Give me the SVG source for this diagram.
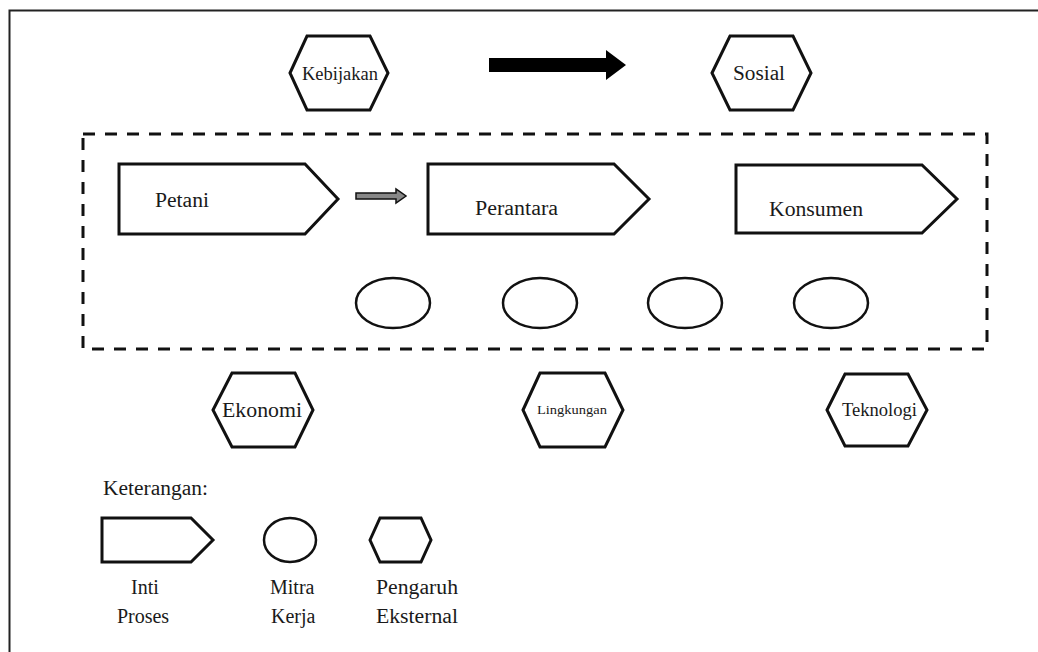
<svg xmlns="http://www.w3.org/2000/svg" width="1038" height="652" viewBox="0 0 1038 652">
  <style>
    .shape { fill: #fff; stroke: #111; stroke-width: 3; stroke-linejoin: miter; }
    .oval { fill: #fff; stroke: #111; stroke-width: 2.5; }
    .lbl { font-family: "Liberation Serif", "Times New Roman", serif; fill: #1a1a1a; }
    .frame { fill: none; stroke: #222; stroke-width: 2; }
    .group { fill: none; stroke: #111; stroke-width: 3; stroke-dasharray: 12 10; }
  </style>
  <rect width="1038" height="652" fill="#fff"/>

  <!-- outer frame: top and left edges -->
  <path class="frame" d="M9.5,652 V10.5 H1038"/>

  <!-- dashed boundary around the core chain -->
  <rect id="chain-boundary" class="group" x="83" y="134" width="904" height="215"/>

  <!-- external influences -->
  <g id="kebijakan">
    <polygon class="shape" points="290,73 307,36 370,36 388,73 370,110 307,110"/>
    <text class="lbl" x="302" y="80" font-size="18" textLength="76" lengthAdjust="spacingAndGlyphs">Kebijakan</text>
  </g>
  <g id="sosial">
    <polygon class="shape" points="712,73 730,36 793,36 811,73 793,110 730,110"/>
    <text class="lbl" x="733" y="80" font-size="20" textLength="52" lengthAdjust="spacingAndGlyphs">Sosial</text>
  </g>
  <g id="ekonomi">
    <polygon class="shape" points="213,410 232,373 295,373 313,410 295,447 232,447"/>
    <text class="lbl" x="222" y="417" font-size="20" textLength="80" lengthAdjust="spacingAndGlyphs">Ekonomi</text>
  </g>
  <g id="lingkungan">
    <polygon class="shape" points="523,410 540,373 605,373 623,410 605,447 540,447"/>
    <text class="lbl" x="537" y="414" font-size="12" textLength="70" lengthAdjust="spacingAndGlyphs">Lingkungan</text>
  </g>
  <g id="teknologi">
    <polygon class="shape" points="827,410 845,374 908,374 927,410 908,446 845,446"/>
    <text class="lbl" x="842" y="416" font-size="18" textLength="75" lengthAdjust="spacingAndGlyphs">Teknologi</text>
  </g>

  <!-- core process chain -->
  <g id="petani">
    <polygon class="shape" points="119,164 305,164 338,199 305,234 119,234"/>
    <text class="lbl" x="155" y="207" font-size="20" textLength="54" lengthAdjust="spacingAndGlyphs">Petani</text>
  </g>
  <g id="perantara">
    <polygon class="shape" points="428,164 614,164 649,199 614,234 428,234"/>
    <text class="lbl" x="475" y="215" font-size="20" textLength="83" lengthAdjust="spacingAndGlyphs">Perantara</text>
  </g>
  <g id="konsumen">
    <polygon class="shape" points="736,165 922,165 957,199 922,233 736,233"/>
    <text class="lbl" x="769" y="216" font-size="20" textLength="94" lengthAdjust="spacingAndGlyphs">Konsumen</text>
  </g>

  <!-- partners -->
  <g id="mitra-1"><ellipse class="oval" cx="393" cy="303" rx="37" ry="25"/></g>
  <g id="mitra-2"><ellipse class="oval" cx="540" cy="303" rx="37" ry="25"/></g>
  <g id="mitra-3"><ellipse class="oval" cx="685" cy="303" rx="37" ry="25"/></g>
  <g id="mitra-4"><ellipse class="oval" cx="831" cy="303" rx="37" ry="25"/></g>

  <!-- connectors -->
  <g id="connectors">
    <polygon points="489,58 606,58 606,50 626,65 606,80 606,72 489,72" fill="#000"/>
    <polygon points="356,193 396,193 396,189 406,196 396,203 396,199 356,199" fill="#888" stroke="#111" stroke-width="1.5"/>
  </g>

  <!-- legend -->
  <g id="legend">
    <text class="lbl" x="103" y="495" font-size="20" textLength="105" lengthAdjust="spacingAndGlyphs">Keterangan:</text>
    <g id="legend-inti">
      <polygon class="shape" points="102,518 191,518 213,540 191,562 102,562"/>
      <text class="lbl" x="145" y="594" font-size="20" text-anchor="middle">Inti</text>
      <text class="lbl" x="143" y="623" font-size="20" text-anchor="middle">Proses</text>
    </g>
    <g id="legend-mitra">
      <ellipse class="oval" cx="290" cy="540" rx="26" ry="22"/>
      <text class="lbl" x="270" y="594" font-size="20">Mitra</text>
      <text class="lbl" x="271" y="623" font-size="20">Kerja</text>
    </g>
    <g id="legend-pengaruh">
      <polygon class="shape" points="370,540 380,518 421,518 431,540 421,562 380,562"/>
      <text class="lbl" x="376" y="594" font-size="20" textLength="82" lengthAdjust="spacingAndGlyphs">Pengaruh</text>
      <text class="lbl" x="376" y="623" font-size="20" textLength="82" lengthAdjust="spacingAndGlyphs">Eksternal</text>
    </g>
  </g>
</svg>
